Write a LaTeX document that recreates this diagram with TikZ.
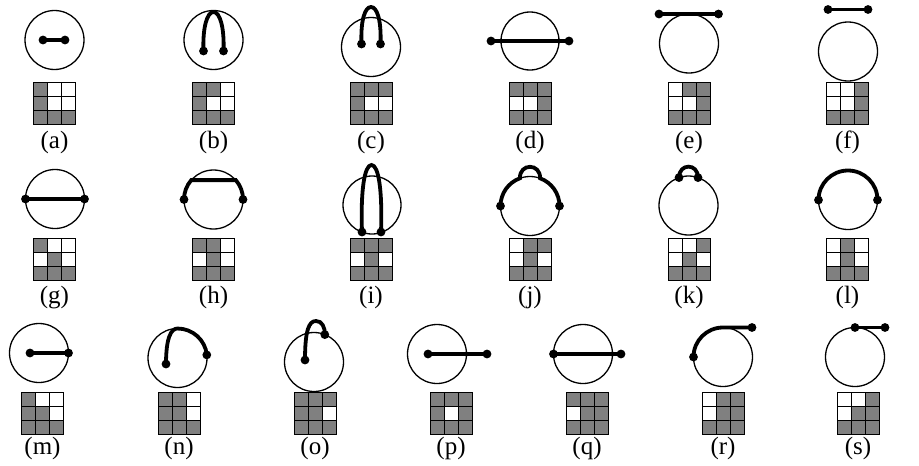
\documentclass[tikz,border=0pt]{standalone}
\usepackage{fontspec}
\setmainfont{Liberation Serif}
\definecolor{cell0}{RGB}{255,255,255}
\definecolor{cell1}{RGB}{128,128,128}
\tikzset{
  ring/.style={draw=black, line width=1.3pt},
  bond/.style={draw=black, line width=3.8pt},
  cellbox/.style={draw=black, line width=0.9pt},
  lab/.style={anchor=base, font=\fontsize{25}{30}\selectfont, inner sep=0pt},
}
\newcommand\dotat[1]{\fill #1 circle[radius=4.4];}
\newcommand\cellgrid[3]{%
  \foreach \v [count=\i from 0] in {#3} {%
    \pgfmathtruncatemacro\cellrow{floor(\i/3)}%
    \pgfmathtruncatemacro\cellcol{mod(\i,3)}%
    \filldraw[cellbox, fill=cell\v] ({#1-21+14*\cellcol},{#2+14*\cellrow}) rectangle ++(14,14);
  }%
}
\begin{document}
\begin{tikzpicture}[x=1pt,y=-1pt]
\useasboundingbox (0,0) rectangle (919,466);
% ---------- row 1 ----------
% (a)
\draw[ring] (54.5,40) circle[radius=29.5];
\draw[bond] (43,40) -- (65,40);
\dotat{(43,40)}\dotat{(65,40)}
\cellgrid{54.5}{82}{1,0,0,1,0,0,1,1,1}
\node[lab] (la) at (54.5,148.3) {(a)};
% (b)
\draw[ring] (213.5,40) circle[radius=29.5];
\draw[bond] (203.5,51) .. controls (202.5,28) and (207,12) .. (213.5,12) .. controls (220,12) and (224.5,28) .. (223.5,51);
\dotat{(203.5,51)}\dotat{(223.5,51)}
\cellgrid{213.5}{82}{1,1,0,1,0,0,1,1,1}
\node[lab] (lb) at (213.5,148.3) {(b)};
% (c)
\draw[ring] (371,47) circle[radius=29.5];
\draw[bond] (361.5,44) .. controls (360.5,20) and (365,7) .. (371,7) .. controls (377,7) and (381.5,20) .. (380.5,44);
\dotat{(361.5,44)}\dotat{(380.5,44)}
\cellgrid{371}{82}{1,1,1,1,0,0,1,1,1}
\node[lab] (lc) at (371,148.3) {(c)};
% (d)
\draw[ring] (530,41) circle[radius=29];
\draw[bond] (491,41) -- (569,41);
\dotat{(491,41)}\dotat{(569,41)}
\cellgrid{530}{82}{1,1,1,0,0,1,1,1,1}
\node[lab] (ld) at (530,148.3) {(d)};
% (e)
\draw[ring] (689,43.5) circle[radius=29.5];
\draw[bond] (659,14) -- (718.5,14);
\dotat{(659,14)}\dotat{(718.5,14)}
\cellgrid{689}{82}{0,1,1,0,0,1,1,1,1}
\node[lab] (le) at (689,148.3) {(e)};
% (f)
\draw[ring] (848,51.5) circle[radius=29.5];
\draw[bond] (828,9.5) -- (868,9.5);
\dotat{(828,9.5)}\dotat{(868,9.5)}
\cellgrid{847.5}{82}{0,0,1,0,0,1,1,1,1}
\node[lab] (lf) at (847.5,148.3) {(f)};
% ---------- row 2 ----------
% (g)
\draw[ring] (55,199) circle[radius=29.5];
\draw[bond] (25.5,199) -- (84.5,199);
\dotat{(25.5,199)}\dotat{(84.5,199)}
\cellgrid{54.5}{238}{1,0,0,0,1,0,1,1,1}
\node[lab] (lg) at (54.5,303.3) {(g)};
% (h)
\draw[ring] (213.5,199.5) circle[radius=29.5];
\draw[bond] (184,199.5) arc[start angle=180,end angle=221,radius=29.5] -- (235.8,180.1) arc[start angle=319,end angle=360,radius=29.5];
\dotat{(184,199.5)}\dotat{(243,199.5)}
\cellgrid{213.5}{238}{1,1,0,0,1,0,1,1,1}
\node[lab] (lh) at (213.5,303.3) {(h)};
% (i)
\draw[ring] (372,205) circle[radius=29];
\draw[bond] (362,232) .. controls (360.5,190) and (364.5,165) .. (371.5,165) .. controls (378.5,165) and (382.5,190) .. (381,232);
\dotat{(362,232)}\dotat{(381,232)}
\cellgrid{371}{238}{1,1,1,0,1,0,1,1,1}
\node[lab] (li) at (371,303.3) {(i)};
% (j)
\draw[ring] (530,206) circle[radius=29.5];
\draw[bond] (500.5,206) arc[start angle=180,end angle=250,radius=29.5] .. controls (519.5,163) and (540.5,163) .. (540.1,178.3) arc[start angle=290,end angle=360,radius=29.5];
\dotat{(500.5,206)}\dotat{(559.5,206)}
\cellgrid{530}{238}{0,1,1,0,1,0,1,1,1}
\node[lab] (lj) at (530,303.3) {(j)};
% (k)
\draw[ring] (688.5,205.5) circle[radius=29.5];
\draw[bond] (679,177.6) .. controls (679,163) and (698,163) .. (698,177.6);
\dotat{(679,177.6)}\dotat{(698,177.6)}
\cellgrid{689}{238}{0,0,1,0,1,0,1,1,1}
\node[lab] (lk) at (689,303.3) {(k)};
% (l)
\draw[ring] (848,200) circle[radius=29.5];
\draw[bond] (818.5,200) arc[start angle=180,end angle=360,radius=29.5];
\dotat{(818.5,200)}\dotat{(877.5,200)}
\cellgrid{847.5}{238}{0,1,0,0,1,0,1,1,1}
\node[lab] (ll) at (847.5,303.3) {(l)};
% ---------- row 3 ----------
% (m)
\draw[ring] (39,353) circle[radius=29.5];
\draw[bond] (30,353) -- (68.5,353);
\dotat{(30,353)}\dotat{(68.5,353)}
\cellgrid{42.5}{392}{1,0,0,1,1,0,1,1,1}
\node[lab] (lm) at (42.5,454.3) {(m)};
% (n)
\draw[ring] (177.5,358) circle[radius=29.5];
\draw[bond] (166,364) .. controls (166,338) and (171,328.5) .. (177.5,328.5) arc[start angle=270,end angle=354,radius=29.5];
\dotat{(166,364)}\dotat{(206.8,354.9)}
\cellgrid{179}{392}{1,1,0,1,1,0,1,1,1}
\node[lab] (ln) at (179,454.3) {(n)};
% (o)
\draw[ring] (314,362) circle[radius=29.5];
\draw[bond] (305,360) .. controls (305,330) and (309,321) .. (316,321) .. controls (322,321) and (325,327) .. (324.8,334.6);
\dotat{(305,360)}\dotat{(324.8,334.6)}
\cellgrid{315}{392}{1,1,1,1,1,0,1,1,1}
\node[lab] (lo) at (315,454.3) {(o)};
% (p)
\draw[ring] (437,354) circle[radius=29.5];
\draw[bond] (428,354) -- (487,354);
\dotat{(428,354)}\dotat{(487,354)}
\cellgrid{451}{392}{1,1,1,1,0,1,1,1,1}
\node[lab] (lp) at (451,454.3) {(p)};
% (q)
\draw[ring] (583,354) circle[radius=29.5];
\draw[bond] (553.5,354) -- (621,354);
\dotat{(553.5,354)}\dotat{(621,354)}
\cellgrid{587}{392}{1,1,1,0,1,1,1,1,1}
\node[lab] (lq) at (587,454.3) {(q)};
% (r)
\draw[ring] (723,357) circle[radius=29.5];
\draw[bond] (693.5,357) arc[start angle=180,end angle=270,radius=29.5] -- (752,327.5);
\dotat{(693.5,357)}\dotat{(752,327.5)}
\cellgrid{723}{392}{0,1,1,0,1,1,1,1,1}
\node[lab] (lr) at (723,454.3) {(r)};
% (s)
\draw[ring] (855,357) circle[radius=29.5];
\draw[bond] (855,327.5) -- (885,327.5);
\dotat{(855,327.5)}\dotat{(885,327.5)}
\cellgrid{858}{392}{0,0,1,0,1,1,1,1,1}
\node[lab] (ls) at (858,454.3) {(s)};
\end{tikzpicture}
\end{document}
